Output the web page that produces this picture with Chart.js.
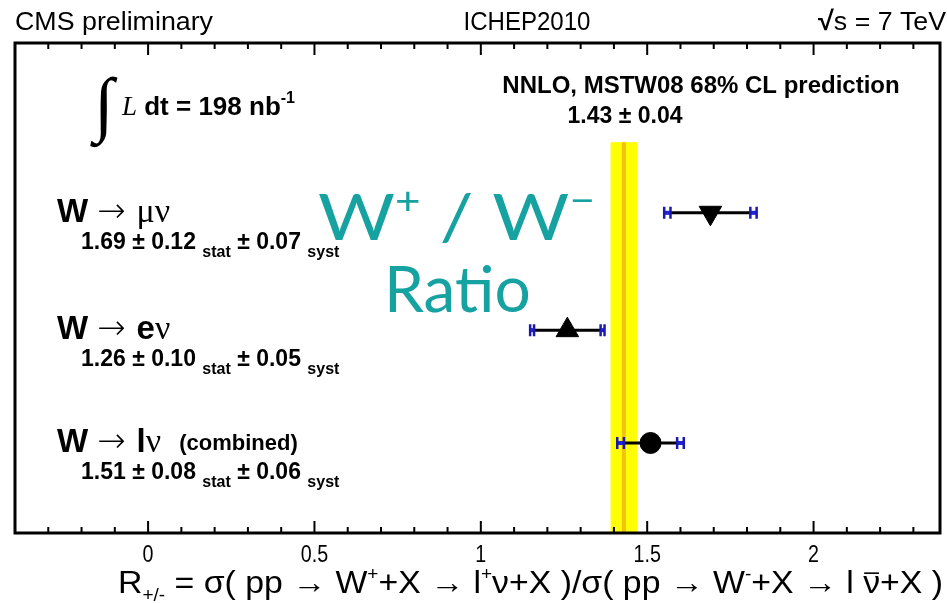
<!DOCTYPE html>
<html>
<head>
<meta charset="utf-8">
<script src="https://cdn.jsdelivr.net/npm/chart.js@4.4.1/dist/chart.umd.min.js"></script>
<style>
  html, body { margin: 0; padding: 0; background: #fff; }
  #wrap { width: 947px; height: 603px; }
</style>
</head>
<body>
<div id="wrap"><canvas id="ratioChart" width="947" height="603"></canvas></div>
<script>
// W+/W- cross-section ratio, per channel
var channels = ['μν', 'eν', 'lν'];
var channelNotes = ['', '', '(combined)'];
var ratios = [1.69, 1.26, 1.51];
var statErr = [0.12, 0.10, 0.08];
var systErr = [0.07, 0.05, 0.06];
var rowPos = [2.81, 1.78, 0.79];
var markerStyle = ['triangle', 'triangle', 'circle'];
var markerRotation = [180, 0, 0];

// NNLO MSTW08 prediction band
var prediction = 1.43;
var predictionErr = 0.04;
var bandTop = 3.43;

// x axis
var xMin = -0.4, xMax = 2.38;
var xTickLabels = [0, 0.5, 1, 1.5, 2];

var NARROW = 'Liberation Sans';

// draws a run of text pieces (sub/superscripts etc.), squeezed horizontally by sx
function textRun(ctx, parts, x, y, opt) {
    opt = opt || {};
    var widths = [], total = 0;
    parts.forEach(function(p) {
        ctx.font = (p.style || '') + ' ' + (p.weight || '') + ' ' + p.size + 'px ' + (p.family || NARROW);
        var w = ctx.measureText(p.t).width;
        widths.push(w);
        total += w;
    });
    var sx = opt.width ? opt.width / total : (opt.sx || 1);
    var cx = x;
    if (opt.align === 'center') cx = x - total * sx / 2;
    if (opt.align === 'right') cx = x - total * sx;
    parts.forEach(function(p, i) {
        ctx.save();
        ctx.translate(cx, y + (p.dy || 0));
        ctx.scale(sx, 1);
        ctx.font = (p.style || '') + ' ' + (p.weight || '') + ' ' + p.size + 'px ' + (p.family || NARROW);
        ctx.fillStyle = p.color || opt.color || '#000';
        ctx.textAlign = 'left';
        ctx.textBaseline = 'alphabetic';
        ctx.fillText(p.t, 0, 0);
        if (p.bar) {
            ctx.lineWidth = 1.6;
            ctx.strokeStyle = '#000';
            ctx.beginPath();
            ctx.moveTo(1, -p.size * 0.62);
            ctx.lineTo(widths[i] - 1, -p.size * 0.62);
            ctx.stroke();
        }
        ctx.restore();
        cx += widths[i] * sx;
    });
    return cx;
}

var overlay = {
    id: 'overlay',
    beforeDatasetsDraw: function(chart) {
        var ctx = chart.ctx, xs = chart.scales.x, ys = chart.scales.y, area = chart.chartArea;
        ctx.save();
        // prediction band with central value
        var x0 = xs.getPixelForValue(prediction - predictionErr);
        var x1 = xs.getPixelForValue(prediction + predictionErr);
        var yt = ys.getPixelForValue(bandTop);
        ctx.fillStyle = '#ffff00';
        ctx.fillRect(x0, yt, x1 - x0, area.bottom - yt);
        ctx.strokeStyle = '#f4c20d';
        ctx.lineWidth = 4;
        ctx.beginPath();
        ctx.moveTo(xs.getPixelForValue(prediction), yt);
        ctx.lineTo(xs.getPixelForValue(prediction), area.bottom);
        ctx.stroke();

        // error bars: black = total, blue = syst part beyond stat
        ratios.forEach(function(v, i) {
            var y = ys.getPixelForValue(rowPos[i]);
            var tot = Math.sqrt(statErr[i] * statErr[i] + systErr[i] * systErr[i]);
            ctx.strokeStyle = '#000';
            ctx.lineWidth = 3;
            ctx.beginPath();
            ctx.moveTo(xs.getPixelForValue(v - tot), y);
            ctx.lineTo(xs.getPixelForValue(v + tot), y);
            ctx.stroke();
            [-1, 1].forEach(function(s) {
                var a = xs.getPixelForValue(v + s * statErr[i]);
                var b = xs.getPixelForValue(v + s * tot);
                ctx.fillStyle = '#2323d8';
                ctx.fillRect(Math.min(a, b), y - 2, Math.abs(b - a), 4);
                ctx.strokeStyle = '#1a1ab0';
                ctx.lineWidth = 2.5;
                ctx.beginPath();
                ctx.moveTo(a, y - 6); ctx.lineTo(a, y + 6);
                ctx.moveTo(b, y - 6); ctx.lineTo(b, y + 6);
                ctx.stroke();
            });
        });
        ctx.restore();
    },
    afterDatasetsDraw: function(chart) {
        var ctx = chart.ctx, xs = chart.scales.x, ys = chart.scales.y, area = chart.chartArea;
        ctx.save();

        // frame
        ctx.strokeStyle = '#000';
        ctx.lineWidth = 3;
        ctx.strokeRect(area.left, area.top, area.right - area.left, area.bottom - area.top);

        // inward ticks every 0.1, longer every 0.5
        ctx.lineWidth = 2;
        for (var i = -4; i <= 23; i++) {
            var px = xs.getPixelForValue(i / 10);
            var len = (i % 5 === 0) ? 12 : 6;
            ctx.beginPath();
            ctx.moveTo(px, area.bottom); ctx.lineTo(px, area.bottom - len);
            ctx.moveTo(px, area.top); ctx.lineTo(px, area.top + len);
            ctx.stroke();
        }
        xTickLabels.forEach(function(v) {
            textRun(ctx, [{t: String(v), size: 24}], xs.getPixelForValue(v), 562, {align: 'center', sx: 0.82});
        });

        // x axis title
        var S = 32, s = 18;
        textRun(ctx, [
            {t: 'R', size: S},
            {t: '+/-', size: s, dy: 8},
            {t: ' = σ( pp → W', size: S},
            {t: '+', size: s, dy: -13},
            {t: '+X → l', size: S},
            {t: '+', size: s, dy: -13},
            {t: 'ν+X )/σ( pp → W', size: S},
            {t: '-', size: s, dy: -13},
            {t: '+X → l ', size: S},
            {t: 'ν', size: S, bar: true},
            {t: '+X )', size: S}
        ], 118, 593, {width: 825});

        // header
        textRun(ctx, [{t: 'CMS preliminary', size: 25}], 15, 30, {width: 198});
        textRun(ctx, [{t: 'ICHEP2010', size: 25}], 527, 30, {width: 127, align: 'center'});
        textRun(ctx, [{t: '√', size: 27, weight: 'bold'}, {t: 's = 7 TeV', size: 25}], 946, 30, {width: 128, align: 'right'});

        // luminosity
        textRun(ctx, [{t: '∫', size: 72, family: 'Liberation Serif'}], 94, 128);
        textRun(ctx, [
            {t: 'L', size: 27, family: 'Liberation Serif', style: 'italic'},
            {t: ' dt = 198 nb', size: 26, weight: 'bold'},
            {t: '-1', size: 16, weight: 'bold', dy: -12}
        ], 122, 115);

        // prediction label
        textRun(ctx, [{t: 'NNLO, MSTW08 68% CL prediction', size: 24, weight: 'bold'}], 701, 93, {align: 'center'});
        textRun(ctx, [{t: prediction.toFixed(2) + ' ± ' + predictionErr.toFixed(2), size: 23, weight: 'bold'}], 625, 123, {align: 'center'});

        // channel labels
        channels.forEach(function(ch, i) {
            var y = ys.getPixelForValue(rowPos[i]);
            var lep = ch.charAt(0), nu = ch.charAt(1);
            var lepPart = (lep === 'μ')
                ? {t: lep, size: 34, family: 'Liberation Serif'}
                : {t: lep, size: 33, weight: 'bold'};
            var end = textRun(ctx, [
                {t: 'W ', size: 33, weight: 'bold'},
                {t: '→ ', size: 34, family: 'DejaVu Sans', weight: '200'},
                lepPart,
                {t: nu, size: 34, family: 'Liberation Serif'}
            ], 57, y + 9);
            if (channelNotes[i]) {
                textRun(ctx, [{t: channelNotes[i], size: 22, weight: 'bold'}], end + 18, y + 7);
            }
            textRun(ctx, [
                {t: ratios[i].toFixed(2) + ' ± ' + statErr[i].toFixed(2) + ' ', size: 23, weight: 'bold'},
                {t: 'stat', size: 16, weight: 'bold', dy: 8},
                {t: ' ± ' + systErr[i].toFixed(2) + ' ', size: 23, weight: 'bold'},
                {t: 'syst', size: 16, weight: 'bold', dy: 8}
            ], 81, y + 36);
        });

        // teal overlay title
        var teal = '#17a2a2';
        textRun(ctx, [
            {t: 'W', size: 64, family: 'Lato'},
            {t: '+', size: 38, family: 'Lato', dy: -26},
            {t: ' / W', size: 64, family: 'Lato'},
            {t: '−', size: 38, family: 'Lato', dy: -26}
        ], 318, 240, {color: teal, width: 277});
        textRun(ctx, [{t: 'Ratio', size: 64, family: 'Lato'}], 384, 312, {color: teal});

        ctx.restore();
    }
};

var datasets = channels.map(function(ch, i) {
    return {
        label: 'W → ' + ch,
        data: [{x: ratios[i], y: rowPos[i]}],
        pointStyle: markerStyle[i],
        rotation: markerRotation[i],
        pointRadius: markerStyle[i] === 'circle' ? 10.5 : 13,
        backgroundColor: '#000',
        borderColor: '#000',
        borderWidth: 1
    };
});

var ctx = document.getElementById('ratioChart').getContext('2d');
var ratioChart = new Chart(ctx, {
    type: 'scatter',
    data: { datasets: datasets },
    options: {
        responsive: false,
        animation: false,
        devicePixelRatio: 1,
        events: [],
        layout: { autoPadding: false, padding: { left: 15, right: 7, top: 43, bottom: 70 } },
        plugins: { legend: { display: false }, tooltip: { enabled: false } },
        scales: {
            x: { type: 'linear', min: xMin, max: xMax, display: false },
            y: { type: 'linear', min: 0, max: 4.3, display: false }
        }
    },
    plugins: [overlay]
});
</script>
</body>
</html>
